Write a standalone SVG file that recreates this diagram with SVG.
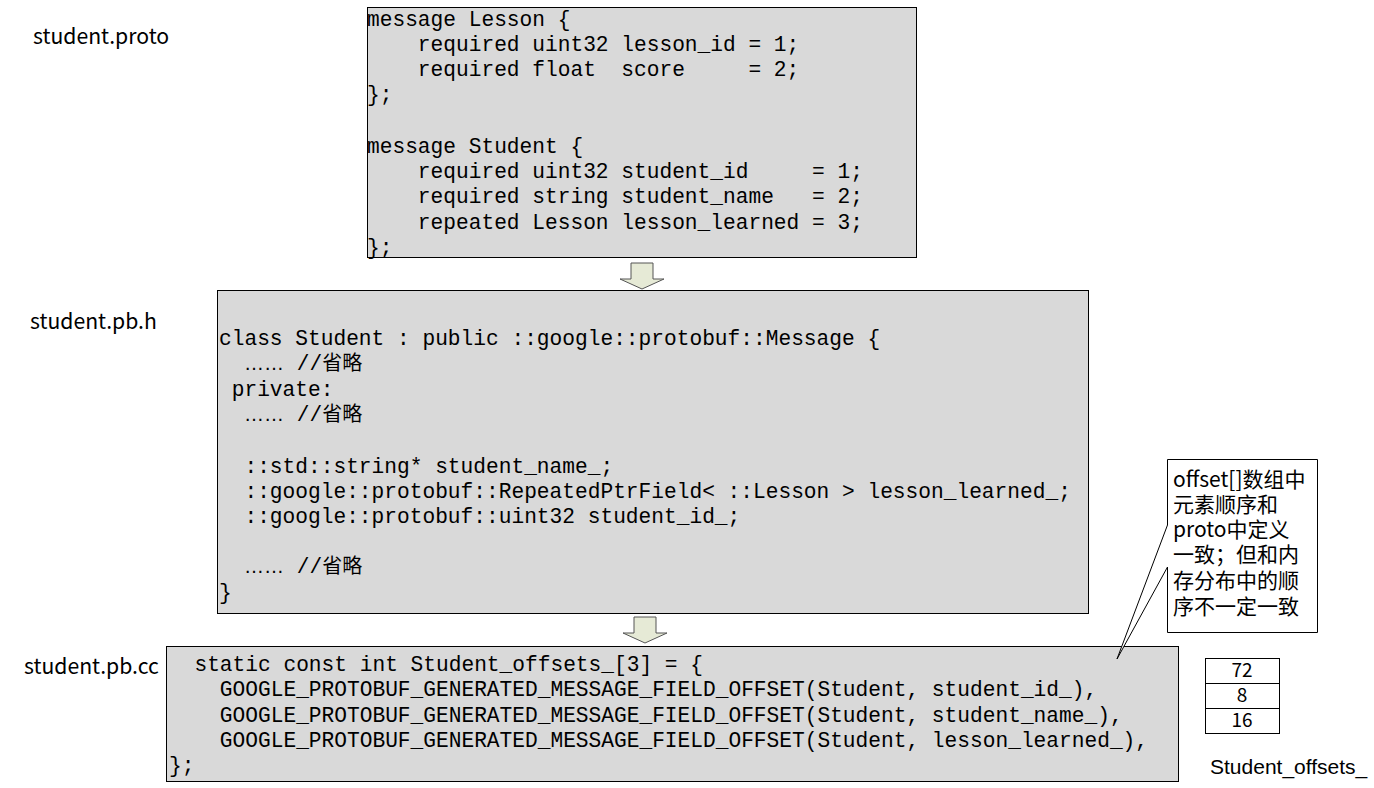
<svg xmlns="http://www.w3.org/2000/svg" width="1374" height="788" viewBox="0 0 1374 788">
<style>
.code{font-family:"Liberation Mono","Noto Sans CJK SC",monospace;font-size:21.2px;fill:#000;white-space:pre}
.cjk{font-family:"Noto Sans CJK SC",sans-serif;font-size:20px}
.dots{font-family:"Liberation Sans",sans-serif;font-size:20px}
.lbl{font-family:"Noto Sans CJK SC","Open Sans",sans-serif;font-size:21.2px;fill:#000}
.box{fill:#d9d9d9;stroke:#000;stroke-width:1}
.arr{fill:#e6ead6;stroke:#555;stroke-width:1}
.cell{fill:#fff;stroke:#000;stroke-width:1}
.num{font-family:"Noto Sans CJK SC","Open Sans",sans-serif;font-size:19px;fill:#000;text-anchor:middle}
</style>
<rect width="1374" height="788" fill="#fff"/>
<g id="labels">
<text class="lbl" x="33" y="44">student.proto</text>
<text class="lbl" x="30" y="329">student.pb.h</text>
<text class="lbl" x="24" y="674">student.pb.cc</text>
</g>
<g id="connectors">
<path class="arr" d="M631,263 H653 V279 H664 L642,289 L620,279 H631 Z"/>
<path class="arr" d="M634,617 H656 V633 H667 L645,643 L623,633 H634 Z"/>
</g>
<g id="proto">
<rect class="box" x="367.5" y="7.5" width="549" height="250"/>
<text class="code" xml:space="preserve"><tspan x="367" y="26">message Lesson {</tspan><tspan x="367" y="51">    required uint32 lesson_id = 1;</tspan><tspan x="367" y="76">    required float  score     = 2;</tspan><tspan x="367" y="101">};</tspan><tspan x="367" y="153">message Student {</tspan><tspan x="367" y="178">    required uint32 student_id     = 1;</tspan><tspan x="367" y="203">    required string student_name   = 2;</tspan><tspan x="367" y="229">    repeated Lesson lesson_learned = 3;</tspan><tspan x="367" y="254">};</tspan></text>
</g>
<g id="pbh">
<rect class="box" x="217.5" y="290.5" width="871" height="323"/>
<text class="code" xml:space="preserve"><tspan x="219" y="345">class Student : public ::google::protobuf::Message {</tspan><tspan x="219" y="396"> private:</tspan><tspan x="219" y="473">  ::std::string* student_name_;</tspan><tspan x="219" y="498">  ::google::protobuf::RepeatedPtrField&lt; ::Lesson &gt; lesson_learned_;</tspan><tspan x="219" y="523">  ::google::protobuf::uint32 student_id_;</tspan><tspan x="219" y="599">}</tspan></text>
<text class="code" xml:space="preserve" x="244" y="370"><tspan class="dots">……</tspan><tspan> //</tspan><tspan class="cjk">省略</tspan></text>
<text class="code" xml:space="preserve" x="244" y="421"><tspan class="dots">……</tspan><tspan> //</tspan><tspan class="cjk">省略</tspan></text>
<text class="code" xml:space="preserve" x="244" y="573"><tspan class="dots">……</tspan><tspan> //</tspan><tspan class="cjk">省略</tspan></text>
</g>
<g id="pbcc">
<rect class="box" x="166.5" y="646.5" width="1012" height="135"/>
<text class="code" xml:space="preserve"><tspan x="169" y="671">  static const int Student_offsets_[3] = {</tspan><tspan x="169" y="696">    GOOGLE_PROTOBUF_GENERATED_MESSAGE_FIELD_OFFSET(Student, student_id_),</tspan><tspan x="169" y="722">    GOOGLE_PROTOBUF_GENERATED_MESSAGE_FIELD_OFFSET(Student, student_name_),</tspan><tspan x="169" y="747">    GOOGLE_PROTOBUF_GENERATED_MESSAGE_FIELD_OFFSET(Student, lesson_learned_),</tspan><tspan x="169" y="772">};</tspan></text>
</g>
<g id="callout">
<path d="M1167.5,459.5 H1317.5 V632.5 H1167.5 V567 L1117,659 L1167.5,525 Z" fill="#fff" stroke="#000" stroke-width="1"/>
<text font-family="Noto Sans CJK SC, sans-serif" font-size="21" fill="#000"><tspan x="1173" y="487">offset[]数组中</tspan><tspan x="1173" y="512">元素顺序和</tspan><tspan x="1173" y="537">proto中定义</tspan><tspan x="1173" y="562">一致；但和内</tspan><tspan x="1173" y="588">存分布中的顺</tspan><tspan x="1173" y="614">序不一定一致</tspan></text>
</g>
<g id="offsets">
<rect class="cell" x="1205.5" y="658.5" width="74" height="25"/>
<rect class="cell" x="1205.5" y="683.5" width="74" height="25"/>
<rect class="cell" x="1205.5" y="708.5" width="74" height="25"/>
<text class="num" x="1242" y="677">72</text>
<text class="num" x="1242" y="702">8</text>
<text class="num" x="1242" y="727">16</text>
<text x="1210" y="774" font-family="Liberation Sans, sans-serif" font-size="21" fill="#000">Student_offsets_</text>
</g>
</svg>
